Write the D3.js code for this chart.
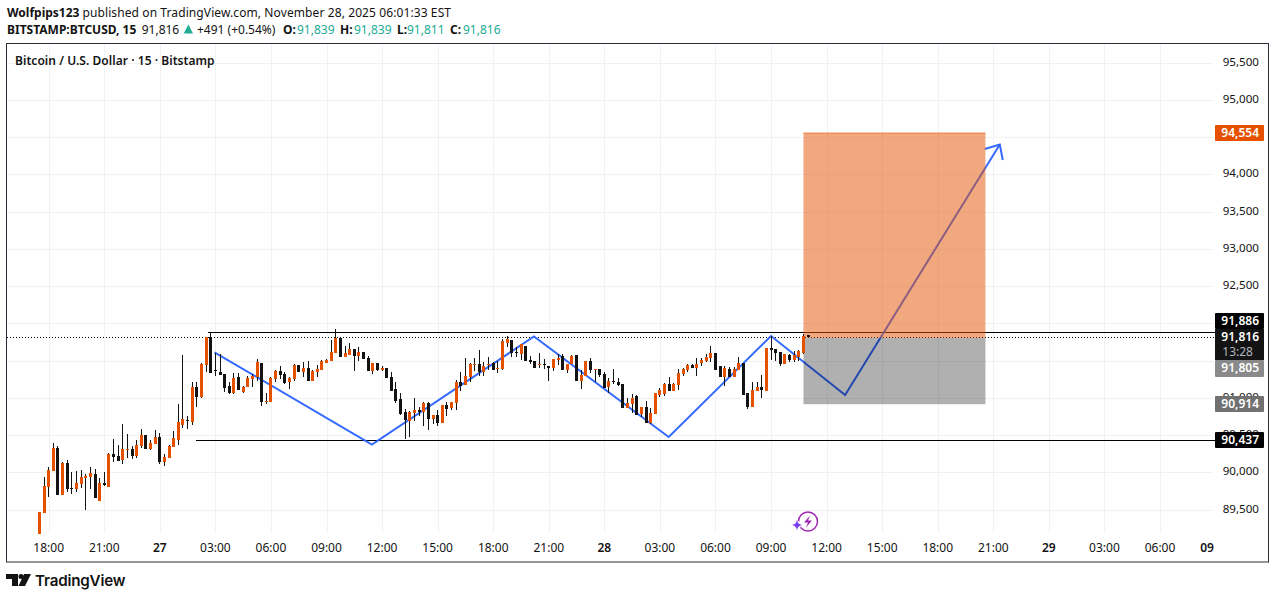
<!DOCTYPE html>
<html>
<head>
<meta charset="utf-8">
<script src="https://cdnjs.cloudflare.com/ajax/libs/d3/7.9.0/d3.min.js"></script>
<style>
  html, body { margin: 0; padding: 0; background: #fff; }
  svg { display: block; }
  text { font-family: "Noto Sans", sans-serif; }
</style>
</head>
<body>
<svg id="chart" width="1275" height="599"></svg>
<script>
// 15 minute bars, first bar is bar -2 (bar 0 sits on the 18:00 tick)
const firstBar = -2;
const opens = [89172,89458,89807,90022,90326,89700,90120,89785,89780,89847,89928,89937,89977,89619,89856,89807,
  90245,90219,90165,90304,90313,90219,90353,90500,90313,90380,90474,90138,90192,90339,90433,90635,90702,90675,91145,91006,
  91440,91811,91373,91346,91319,91158,91064,91279,91078,91145,91252,91279,91467,90943,90943,91252,91359,91319,91212,91252,
  91440,91346,91400,91225,91346,91373,91467,91494,91601,91802,91547,91574,91655,91561,91614,91534,91359,91467,91373,91400,
  91279,91118,90984,90809,90688,90796,90836,90809,90930,90715,90769,90661,90903,90863,90930,91212,91172,91279,91440,91453,
  91346,91440,91467,91391,91386,91735,91776,91614,91588,91695,91507,91494,91440,91453,91427,91400,91507,91561,91373,91453,
  91574,91225,91292,91494,91373,91386,91319,91145,91225,91212,91185,90863,90917,91024,90782,90876,90661,90782,91037,91051,
  91185,91091,91172,91319,91373,91440,91400,91467,91494,91534,91601,91427,91279,91386,91279,91373,91467,91064,90876,91091,
  91145,91091,91668,91655,91614,91453,91574,91507,91547,91601,91839];
const highs = [89467,89932,90071,90393,90353,90134,90165,90004,90017,90031,89977,90071,90044,89923,90004,90254,
  90447,90366,90648,90514,90353,90433,90581,90500,90433,90568,90527,90245,90366,90554,90917,91574,90755,91212,91212,91467,
  91811,91878,91601,91588,91319,91212,91333,91333,91158,91292,91319,91521,91467,91064,91274,91373,91427,91346,91279,91453,
  91440,91480,91494,91373,91440,91507,91521,91776,91923,91802,91695,91735,91655,91682,91614,91561,91467,91467,91427,91400,
  91346,91212,91064,90849,90823,90997,90876,90943,90943,90769,90836,90903,90943,90943,91239,91346,91534,91467,91534,91641,
  91480,91547,91480,91494,91789,91829,91776,91682,91722,91695,91561,91494,91601,91521,91427,91521,91588,91588,91453,91574,
  91574,91373,91494,91534,91386,91386,91346,91266,91386,91266,91185,90997,91051,91037,90876,90957,90863,91064,91131,91198,
  91279,91198,91386,91400,91453,91453,91534,91534,91588,91695,91601,91427,91427,91413,91413,91547,91467,91064,91212,91212,
  91306,91668,91829,91655,91614,91588,91588,91628,91641,91856,91839];
const lows = [89172,89458,89673,90022,89700,89700,89740,89713,89740,89785,89498,89776,89659,89619,89820,89807,
  90143,90151,90116,90196,90183,90192,90326,90313,90299,90380,90116,90084,90192,90339,90366,90594,90581,90635,90876,90997,
  91346,91333,91292,91306,91078,91051,91051,91104,91064,91145,91145,91225,90890,90917,90943,91212,91252,91185,91118,91225,
  91346,91279,91225,91225,91279,91373,91467,91494,91601,91547,91547,91574,91359,91494,91521,91359,91319,91359,91359,91266,
  91091,90930,90769,90447,90474,90688,90755,90621,90568,90648,90621,90661,90755,90836,90836,91091,91172,91212,91359,91292,
  91292,91373,91373,91333,91373,91682,91547,91547,91507,91494,91453,91400,91400,91386,91225,91359,91440,91373,91333,91453,
  91225,91118,91292,91333,91212,91279,91131,91064,91185,91158,90863,90863,90796,90769,90742,90661,90648,90782,91011,91024,
  91091,91091,91104,91292,91346,91400,91292,91427,91480,91480,91373,91279,91158,91279,91279,91373,91037,90849,90876,91091,
  90997,91091,91507,91494,91427,91453,91480,91480,91494,91588,91811];
const closes = [89467,89816,90031,90326,89700,90120,89780,89776,89856,89937,89950,89990,89659,89856,89834,90245,
  90210,90156,90308,90313,90223,90366,90500,90313,90393,90474,90138,90205,90353,90460,90675,90715,90697,91145,91011,91453,
  91811,91333,91364,91306,91131,91064,91266,91104,91145,91266,91292,91480,90943,90957,91266,91359,91306,91198,91266,91440,
  91346,91400,91225,91359,91386,91494,91507,91614,91802,91547,91601,91655,91561,91614,91521,91359,91467,91373,91400,91266,
  91091,90957,90782,90702,90809,90836,90809,90930,90715,90769,90661,90903,90849,90943,91212,91158,91292,91453,91453,91346,
  91427,91453,91373,91400,91762,91789,91601,91606,91722,91494,91485,91400,91453,91440,91400,91521,91534,91373,91453,91561,
  91225,91306,91494,91373,91386,91306,91131,91225,91212,91172,90863,90930,90997,90769,90876,90661,90796,91064,91104,91185,
  91091,91185,91333,91386,91440,91400,91453,91507,91547,91601,91373,91279,91400,91279,91386,91467,91037,90876,91104,91145,
  91104,91668,91641,91601,91453,91588,91507,91574,91628,91829,91816];

// axis ticks
const priceTicks = [95500,95000,94500,94000,93500,93000,92500,92000,91500,91000,90500,90000,89500];
const timeTickBars = [0,12,24,36,48,60,72,84,96,108,120,132,144,156,168,180,192,204,216,228,240];
const timeTickLabels = ['18:00','21:00','27','03:00','06:00','09:00','12:00','15:00','18:00','21:00','28',
  '03:00','06:00','09:00','12:00','15:00','18:00','21:00','29','03:00','06:00'];

// drawings, in [bar, price]
const patternPath = [[35.8,91611],[69.8,90373],[104.8,91823],[133.9,90474],[156,91830],[172,91038],[205.4,94400]];
const targetPrice = 94554, entryPrice = 91805, stopPrice = 90914;
const boxBars = [163, 202.3];
const resistance = 91886, support = 90437, lastPrice = 91816;
const resistanceBar = 34.5, supportBar = 31.8;

const orange = '#e65100', ink = '#131313', teal = '#22ab94', blue = '#2962ff';

const svg = d3.select('#chart');
const plot = {left: 7, right: 1213, top: 44, bottom: 533};

const x = d3.scaleLinear().domain([0, 240]).range([48.7, 1160]);
const y = d3.scaleLinear().domain([94000, 89500]).range([174.3, 509.55]);

// frame
svg.append('rect')
    .attr('x', 6.5).attr('y', 43.5).attr('width', 1262).attr('height', 518.5)
    .attr('fill', 'none').attr('stroke', '#2a2e39').attr('stroke-width', 1);

// grid
const grid = svg.append('g').attr('stroke', '#f0f1f3').attr('shape-rendering', 'crispEdges');
grid.selectAll('.h').data(priceTicks).join('line').attr('class', 'h')
    .attr('x1', plot.left).attr('x2', plot.right)
    .attr('y1', (d) => Math.round(y(d)) + .5).attr('y2', (d) => Math.round(y(d)) + .5);
grid.selectAll('.v').data(timeTickBars).join('line').attr('class', 'v')
    .attr('y1', plot.top).attr('y2', plot.bottom)
    .attr('x1', (d) => Math.round(x(d)) + .5).attr('x2', (d) => Math.round(x(d)) + .5);

// price axis labels
svg.append('g').attr('font-size', 11.6).attr('fill', ink).attr('text-anchor', 'end')
    .selectAll('text').data(priceTicks).join('text')
    .attr('x', 1259).attr('y', (d) => y(d) + 3)
    .text((d) => d3.format(',')(d));

// time axis labels
svg.append('g').attr('font-size', 12).attr('fill', ink).attr('text-anchor', 'middle')
    .selectAll('text').data(timeTickBars).join('text')
    .attr('x', (d) => x(d)).attr('y', 552)
    .attr('font-weight', (d, i) => /:/.test(timeTickLabels[i]) ? 400 : 600)
    .text((d, i) => timeTickLabels[i]);
svg.append('text').attr('x', 1207).attr('y', 552).attr('font-size', 12).attr('font-weight', 600)
    .attr('fill', ink).attr('text-anchor', 'middle').text('09');

// horizontal levels
const levels = svg.append('g').attr('stroke', '#000').attr('shape-rendering', 'crispEdges');
levels.append('line').attr('x1', x(resistanceBar)).attr('x2', 1215)
    .attr('y1', Math.round(y(resistance)) + .5).attr('y2', Math.round(y(resistance)) + .5);
levels.append('line').attr('x1', x(supportBar)).attr('x2', 1215)
    .attr('y1', Math.round(y(support)) + .5).attr('y2', Math.round(y(support)) + .5);
levels.append('line').attr('x1', plot.left).attr('x2', 1215)
    .attr('y1', Math.round(y(lastPrice)) + .5).attr('y2', Math.round(y(lastPrice)) + .5)
    .attr('stroke-dasharray', '1 2');

// zigzag and its arrow head
const zigzag = d3.line().x((d) => x(d[0])).y((d) => y(d[1]));
svg.append('path').datum(patternPath).attr('d', zigzag)
    .attr('fill', 'none').attr('stroke', blue).attr('stroke-width', 2).attr('opacity', .95);
const tip = patternPath[patternPath.length - 1];
svg.append('path')
    .attr('d', `M${x(tip[0]) - 15},${y(tip[1]) + 4.5}L${x(tip[0])},${y(tip[1])}L${x(tip[0]) + 3},${y(tip[1]) + 15.5}`)
    .attr('fill', 'none').attr('stroke', blue).attr('stroke-width', 2).attr('opacity', .95);

// long position boxes
svg.append('rect').attr('x', x(boxBars[0])).attr('width', x(boxBars[1]) - x(boxBars[0]))
    .attr('y', y(targetPrice)).attr('height', y(entryPrice) - y(targetPrice))
    .attr('fill', orange).attr('fill-opacity', .5);
svg.append('line').attr('x1', x(boxBars[0])).attr('x2', x(boxBars[1]))
    .attr('y1', y(targetPrice)).attr('y2', y(targetPrice))
    .attr('stroke', orange).attr('stroke-opacity', .6);
svg.append('rect').attr('x', x(boxBars[0])).attr('width', x(boxBars[1]) - x(boxBars[0]))
    .attr('y', y(entryPrice)).attr('height', y(stopPrice) - y(entryPrice))
    .attr('fill', '#000').attr('fill-opacity', .31);

// candles
const candles = opens.map((o, i) => ({bar: firstBar + i, o, h: highs[i], l: lows[i], c: closes[i]}));
const candle = svg.append('g').attr('shape-rendering', 'crispEdges')
    .selectAll('g').data(candles).join('g')
    .attr('fill', (d) => d.c >= d.o ? orange : ink);
candle.append('rect')
    .attr('x', (d) => Math.floor(x(d.bar))).attr('width', 1)
    .attr('y', (d) => y(d.h)).attr('height', (d) => y(d.l) - y(d.h))
    .attr('fill', ink);
candle.append('rect')
    .attr('x', (d) => Math.floor(x(d.bar)) - 1).attr('width', 3)
    .attr('y', (d) => y(Math.max(d.o, d.c)))
    .attr('height', (d) => Math.max(1, Math.abs(y(d.o) - y(d.c))));

// price tags on the right, some pushed off their level so they do not collide
const tags = [
  {v: targetPrice, bg: orange, fg: '#fff', h: 16},
  {v: resistance, bg: '#000', fg: '#fff', h: 16, top: 313},
  {v: entryPrice, bg: '#8a8a8a', fg: '#fff', h: 17, top: 360},
  {v: stopPrice, bg: '#717171', fg: '#fff', h: 16},
  {v: support, bg: '#000', fg: '#fff', h: 16},
];
const tag = svg.append('g').selectAll('g').data(tags).join('g');
tag.append('rect').attr('x', 1215).attr('width', 49).attr('height', (d) => d.h)
    .attr('y', (d) => d.top !== undefined ? d.top : Math.round(y(d.v)) - 8)
    .attr('rx', 1).attr('fill', (d) => d.bg);
tag.append('text').attr('x', 1259).attr('text-anchor', 'end')
    .attr('y', (d) => (d.top !== undefined ? d.top + 8 : Math.round(y(d.v))) + 4)
    .attr('font-size', 12).attr('font-weight', 600).attr('fill', (d) => d.fg)
    .text((d) => d3.format(',')(d.v));
// last price tag with countdown
svg.append('rect').attr('x', 1215).attr('y', 329).attr('width', 49).attr('height', 31).attr('fill', ink);
svg.append('text').attr('x', 1259).attr('y', 341).attr('text-anchor', 'end').attr('font-size', 12)
    .attr('font-weight', 600).attr('fill', '#fff').text(d3.format(',')(lastPrice));
svg.append('text').attr('x', 1253).attr('y', 356).attr('text-anchor', 'end').attr('font-size', 12)
    .attr('fill', '#b2b5be').text('13:28');

// header
svg.append('text').attr('x', 7).attr('y', 17).attr('font-size', 12).attr('font-weight', 700)
    .attr('fill', ink).text('Wolfpips123');
svg.append('text').attr('x', 82.5).attr('y', 17).attr('font-size', 12).attr('fill', ink)
    .attr('textLength', 368.5).attr('lengthAdjust', 'spacing')
    .text('published on TradingView.com, November 28, 2025 06:01:33 EST');

const headerBits = [
  ['BITSTAMP:BTCUSD, 15', 7, 700, ink],
  ['91,816', 141.7, 400, ink],
  ['+491 (+0.54%)', 197, 400, ink],
  ['O:', 283, 700, ink], ['91,839', 297, 400, teal],
  ['H:', 340, 700, ink], ['91,839', 354, 400, teal],
  ['L:', 397, 700, ink], ['91,811', 407, 400, teal],
  ['C:', 450, 700, ink], ['91,816', 463, 400, teal],
];
svg.append('g').attr('font-size', 12).selectAll('text').data(headerBits).join('text')
    .attr('x', (d) => d[1]).attr('y', 33.5)
    .attr('font-weight', (d) => d[2]).attr('fill', (d) => d[3])
    .text((d) => d[0]);
svg.append('path').attr('d', 'M183.7,33.5L188.4,24.5L193,33.5Z').attr('fill', teal);

svg.append('text').attr('x', 15).attr('y', 65).attr('font-size', 12).attr('font-weight', 600)
    .attr('fill', ink).attr('letter-spacing', '.05')
    .text('Bitcoin / U.S. Dollar \u00b7 15 \u00b7 Bitstamp');

// lightning badge under the last bars
const badge = svg.append('g').attr('transform', 'translate(808,521.5)');
badge.append('circle').attr('r', 9.5).attr('fill', 'none').attr('stroke', '#9c27b0').attr('stroke-width', 1.5);
badge.append('path').attr('d', 'M2,-6L-4,1L0,1L-2,6L4,-1L0,-1Z').attr('fill', '#9c27b0');
badge.append('circle').attr('cx', -11).attr('cy', 3.5).attr('r', 4).attr('fill', '#fff');
badge.append('path').attr('d', 'M-11,-2Q-10.5,3 -5.5,3.5Q-10.5,4 -11,9Q-11.5,4 -16.5,3.5Q-11.5,3 -11,-2Z').attr('fill', '#7b3ff2');

// footer logo
const logo = svg.append('g').attr('fill', ink);
logo.append('path').attr('d', 'M6,574H18V586H12V579H6Z');
logo.append('circle').attr('cx', 21).attr('cy', 576.5).attr('r', 2.5);
logo.append('path').attr('d', 'M24,574H31L25,586H18.5Z');
svg.append('text').attr('x', 35).attr('y', 586)
    .style('font-family', 'Inter, sans-serif').attr('font-size', 15.2).attr('font-weight', 600)
    .attr('fill', ink).attr('letter-spacing', '-0.2').text('TradingView');
</script>
</body>
</html>
